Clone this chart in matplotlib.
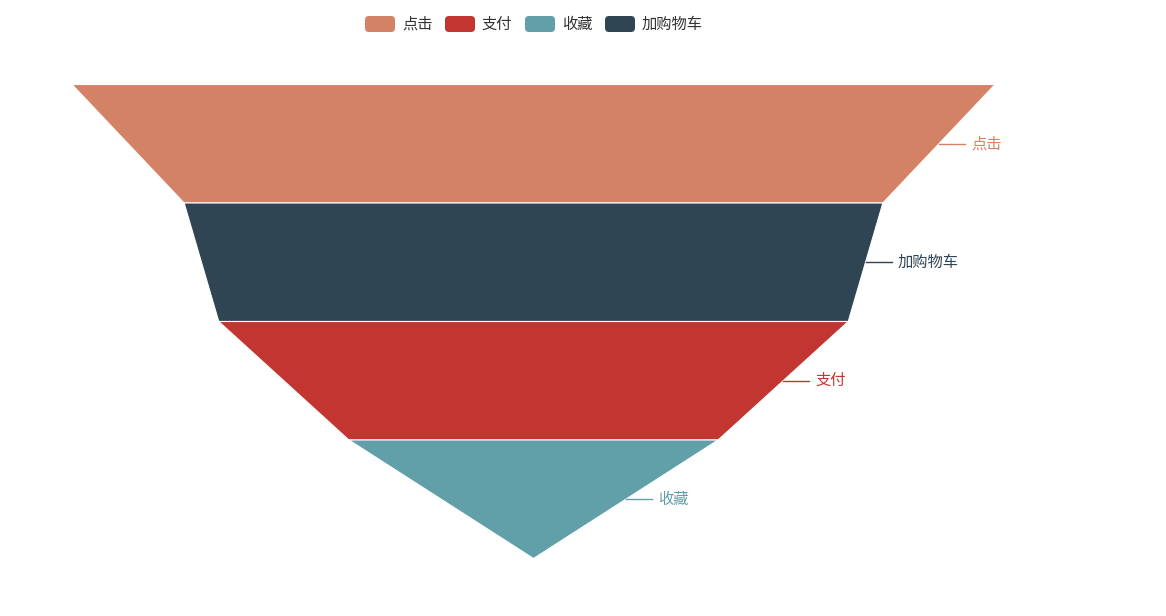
import matplotlib
matplotlib.use("Agg")
import matplotlib.pyplot as plt
from matplotlib.patches import Polygon, FancyBboxPatch

plt.rcParams['font.family'] = ['Noto Sans CJK SC', 'DejaVu Sans']

# data (legend order)
names = ['点击', '支付', '收藏', '加购物车']
values = [100, 68.2, 40, 75.7]
colors = ['#d48265', '#c23531', '#61a0a8', '#2f4554']

W, H = 1166, 616
fig = plt.figure(figsize=(W / 100, H / 100), dpi=100)
ax = fig.add_axes([0, 0, 1, 1])
ax.set_xlim(0, W)
ax.set_ylim(H, 0)
ax.axis('off')

# funnel geometry (pixels)
cx = 533.5
top, bottom = 84.5, 558.5
full_w = 923
vmax = max(values)

order = sorted(range(len(values)), key=lambda i: -values[i])
n = len(order)
step = (bottom - top) / n

for k, i in enumerate(order):
    y0 = top + k * step
    y1 = y0 + step
    w0 = values[i] / vmax * full_w / 2
    w1 = values[order[k + 1]] / vmax * full_w / 2 if k + 1 < n else 0
    poly = Polygon([(cx - w0, y0), (cx + w0, y0), (cx + w1, y1), (cx - w1, y1)],
                   closed=True, facecolor=colors[i], edgecolor='white', linewidth=0.8)
    ax.add_patch(poly)
    # outside label with a short line
    ym = (y0 + y1) / 2
    xm = cx + (w0 + w1) / 2
    ax.plot([xm, xm + 26], [ym, ym], color=colors[i], lw=1)
    ax.text(xm + 32, ym, names[i], color=colors[i], fontsize=11,
            va='center', ha='left')

# legend
lx = 365
ly = 24
for i, name in enumerate(names):
    rect = FancyBboxPatch((lx, ly - 8), 30, 16, boxstyle='round,pad=0,rounding_size=4',
                          facecolor=colors[i], edgecolor='none')
    ax.add_patch(rect)
    ax.text(lx + 37, ly, name, color='#333333', fontsize=11, va='center', ha='left')
    lx += 37 + 15 * len(name) + 13

fig.savefig('out.png', dpi=100)
